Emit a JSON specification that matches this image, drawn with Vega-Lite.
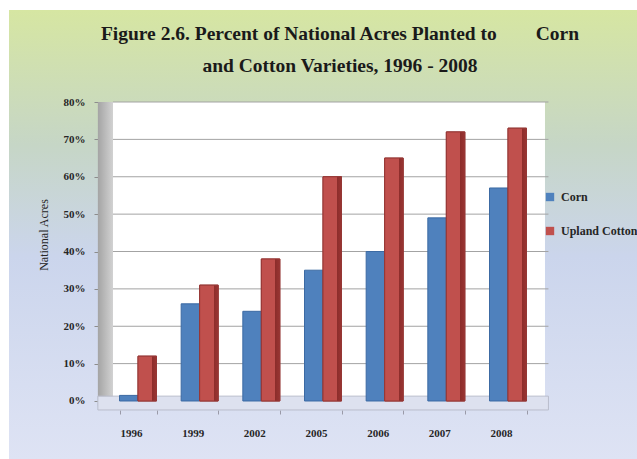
{
  "$schema": "https://vega.github.io/schema/vega-lite/v6.json",
  "width": 628,
  "height": 449,
  "autosize": {"type": "none"},
  "padding": {"left": 9, "top": 10, "right": 0, "bottom": 0},
  "background": "white",
  "config": {
    "font": "Liberation Serif",
    "view": {
      "stroke": null,
      "fill": {
        "gradient": "linear", "x1": 0, "y1": 0, "x2": 0, "y2": 1,
        "stops": [
          {"offset": 0, "color": "#d6e6a2"},
          {"offset": 0.3, "color": "#c6d6c6"},
          {"offset": 0.55, "color": "#cbd5ec"},
          {"offset": 1, "color": "#dee3f4"}
        ]
      }
    },
    "axisY": {
      "offset": -89, "domain": false, "grid": false, "tickSize": 4, "tickColor": "#8c8c8c",
      "labelPadding": 9, "labelFont": "Liberation Serif", "labelFontWeight": "bold", "labelFontSize": 11, "labelColor": "#262626",
      "titleFont": "Liberation Serif", "titleFontWeight": "normal", "titleFontSize": 12, "titleColor": "#262626", "titlePadding": 13
    },
    "axisX": {
      "offset": -49, "domain": false, "grid": false, "tickSize": 4, "tickColor": "#9a9aa8", "tickBand": "extent",
      "labelPadding": 13, "labelOffset": -7, "labelFont": "Liberation Serif", "labelFontWeight": "bold", "labelFontSize": 11, "labelColor": "#262626",
      "labelAngle": 0, "title": null
    }
  },
  "title": {
    "text": ["Figure 2.6.  Percent of National Acres Planted to\u00a0\u00a0\u00a0\u00a0\u00a0\u00a0\u00a0 Corn", "and Cotton Varieties,  1996 - 2008"],
    "font": "Liberation Serif", "fontSize": 19.5, "fontWeight": "bold", "color": "#1a1a1a",
    "lineHeight": 32, "offset": -66, "anchor": "middle", "dx": 17
  },
  "datasets": {
    "acres": [
      {"year": "1996", "series": "Corn", "value": 1.5},
      {"year": "1996", "series": "Upland Cotton", "value": 12},
      {"year": "1999", "series": "Corn", "value": 26},
      {"year": "1999", "series": "Upland Cotton", "value": 31},
      {"year": "2002", "series": "Corn", "value": 24},
      {"year": "2002", "series": "Upland Cotton", "value": 38},
      {"year": "2005", "series": "Corn", "value": 35},
      {"year": "2005", "series": "Upland Cotton", "value": 60},
      {"year": "2006", "series": "Corn", "value": 40},
      {"year": "2006", "series": "Upland Cotton", "value": 65},
      {"year": "2007", "series": "Corn", "value": 49},
      {"year": "2007", "series": "Upland Cotton", "value": 72},
      {"year": "2008", "series": "Corn", "value": 57},
      {"year": "2008", "series": "Upland Cotton", "value": 73}
    ],
    "gridticks": [
      {"v": 10}, {"v": 20}, {"v": 30}, {"v": 40}, {"v": 50}, {"v": 60}, {"v": 70}, {"v": 80}
    ]
  },
  "resolve": {"scale": {"x": "independent"}},
  "layer": [
    {
      "data": {"values": [{"part": "back wall"}]},
      "mark": {"type": "rect", "fill": "#ffffff"},
      "encoding": {
        "x": {"datum": 0, "type": "quantitative", "scale": {"domain": [-24.07, 121.3], "nice": false, "zero": false}, "axis": null},
        "x2": {"datum": 100},
        "y": {"datum": 0, "type": "quantitative", "title": "National Acres", "scale": {"domain": [-15.52, 104.62], "nice": false, "zero": false}},
        "y2": {"datum": 80}
      }
    },
    {
      "data": {"values": [{"part": "side wall"}]},
      "mark": {"type": "rect", "fill": {"gradient": "linear", "x1": 0, "y1": 0, "x2": 1, "y2": 0, "stops": [{"offset": 0, "color": "#a4a4a4"}, {"offset": 1, "color": "#d2d2d2"}]}},
      "encoding": {
        "x": {"datum": -3.5, "type": "quantitative", "scale": {"domain": [-24.07, 121.3], "nice": false, "zero": false}, "axis": null},
        "x2": {"datum": 0},
        "y": {"datum": -1.5, "type": "quantitative", "title": "National Acres", "scale": {"domain": [-15.52, 104.62], "nice": false, "zero": false}},
        "y2": {"datum": 80}
      }
    },
    {
      "data": {"name": "gridticks"},
      "mark": {"type": "rule", "stroke": "#a3a3a3", "strokeWidth": 1},
      "encoding": {
        "x": {"datum": 0, "type": "quantitative", "scale": {"domain": [-24.07, 121.3], "nice": false, "zero": false}, "axis": null},
        "x2": {"datum": 100.8},
        "y": {"field": "v", "type": "quantitative", "title": "National Acres", "scale": {"domain": [-15.52, 104.62], "nice": false, "zero": false}}
      }
    },
    {
      "data": {"values": [{"part": "floor"}]},
      "mark": {"type": "rect", "fill": "#dde1ef", "stroke": "#b9bdcb", "strokeWidth": 1},
      "encoding": {
        "x": {"datum": -3.5, "type": "quantitative", "scale": {"domain": [-24.07, 121.3], "nice": false, "zero": false}, "axis": null},
        "x2": {"datum": 100.8},
        "y": {"datum": -2.4, "type": "quantitative", "title": "National Acres", "scale": {"domain": [-15.52, 104.62], "nice": false, "zero": false}},
        "y2": {"datum": 1.3}
      }
    },
    {
      "data": {"name": "acres"},
      "mark": {"type": "bar", "strokeWidth": 1},
      "encoding": {
        "x": {"field": "year", "type": "nominal", "sort": null, "scale": {"range": [110.5, 517.5], "paddingInner": 0.4, "paddingOuter": 0}},
        "xOffset": {"field": "series", "type": "nominal", "scale": {"domain": ["Corn", "Upland Cotton"], "paddingInner": 0}},
        "y": {
          "field": "value", "type": "quantitative", "title": "National Acres",
          "scale": {"domain": [-15.52, 104.62], "nice": false, "zero": false},
          "axis": {"values": [0, 10, 20, 30, 40, 50, 60, 70, 80], "labelExpr": "datum.value + '%'"}
        },
        "color": {
          "field": "series", "type": "nominal",
          "scale": {"domain": ["Corn", "Upland Cotton"], "range": ["#4f81bd", "#c0504d"]},
          "legend": {
            "orient": "none", "legendX": 535, "legendY": 181, "title": null,
            "symbolType": "square", "symbolSize": 70, "symbolStrokeWidth": 0,
            "labelFont": "Liberation Serif", "labelFontWeight": "bold", "labelFontSize": 12, "labelColor": "#262626",
            "rowPadding": 22, "labelOffset": 5
          }
        },
        "stroke": {
          "field": "series", "type": "nominal",
          "scale": {"domain": ["Corn", "Upland Cotton"], "range": ["#3c6aa3", "#953735"]},
          "legend": null
        }
      }
    },
    {
      "data": {"name": "acres"},
      "transform": [{"filter": "datum.series === 'Upland Cotton'"}],
      "mark": {
        "type": "bar", "stroke": "#953735", "strokeWidth": 1,
        "fill": {"gradient": "linear", "x1": 0, "y1": 0, "x2": 1, "y2": 0,
          "stops": [{"offset": 0, "color": "#c0504d"}, {"offset": 0.76, "color": "#c0504d"}, {"offset": 0.76, "color": "#8c2d2b"}, {"offset": 1, "color": "#9a3533"}]}
      },
      "encoding": {
        "x": {"field": "year", "type": "nominal", "sort": null, "scale": {"range": [110.5, 517.5], "paddingInner": 0.4, "paddingOuter": 0}, "axis": null},
        "xOffset": {"field": "series", "type": "nominal", "scale": {"domain": ["Corn", "Upland Cotton"], "paddingInner": 0}},
        "y": {"field": "value", "type": "quantitative", "title": "National Acres", "scale": {"domain": [-15.52, 104.62], "nice": false, "zero": false}}
      }
    }
  ]
}
